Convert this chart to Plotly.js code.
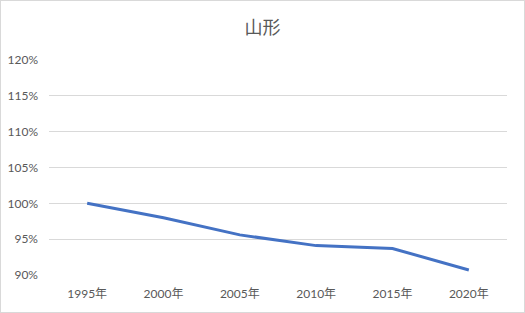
<!DOCTYPE html>
<html>
<head>
<meta charset="utf-8">
<script src="https://cdn.plot.ly/plotly-3.0.1.min.js"></script>
<style>
  html, body { margin: 0; padding: 0; background: #fff; }
  #chart { width: 525px; height: 313px; box-sizing: border-box; border: 1px solid #d9d9d9; }
</style>
</head>
<body>
<div id="chart"></div>
<script>
const categories = ["1995年", "2000年", "2005年", "2010年", "2015年", "2020年"];
const values = [100.0, 98.0, 95.6, 94.1, 93.7, 90.7];
const yTicks = [90, 95, 100, 105, 110, 115, 120];
const chartTitle = "山形";

const fontFam = "Lato, 'Noto Sans CJK JP', sans-serif";

Plotly.newPlot("chart", [{
  type: "scatter",
  mode: "lines",
  x: categories,
  y: values,
  line: { color: "#4472C4", width: 3 },
  hoverinfo: "skip"
}], {
  width: 523,
  height: 311,
  margin: { l: 48, r: 17, t: 59, b: 37 },
  paper_bgcolor: "#ffffff",
  plot_bgcolor: "#ffffff",
  showlegend: false,
  title: {
    text: chartTitle,
    font: { family: "'Noto Sans CJK JP', sans-serif", size: 18, color: "#595959" },
    x: 0.5, xanchor: "center",
    y: 1 - 27 / 311, yanchor: "middle", yref: "container"
  },
  xaxis: {
    type: "category",
    range: [-0.5, categories.length - 0.5],
    showgrid: false,
    zeroline: false,
    showline: false,
    ticks: "",
    ticklabelstandoff: 10,
    tickfont: { family: fontFam, size: 12, color: "#595959" }
  },
  yaxis: {
    range: [90, 120],
    tickvals: yTicks,
    ticktext: yTicks.map(v => v + "%"),
    showgrid: true,
    gridcolor: "#d9d9d9",
    gridwidth: 1,
    zeroline: false,
    showline: false,
    ticks: "",
    ticklabelstandoff: 10,
    tickfont: { family: fontFam, size: 12, color: "#595959" }
  }
}, { displayModeBar: false, staticPlot: true });
</script>
</body>
</html>
